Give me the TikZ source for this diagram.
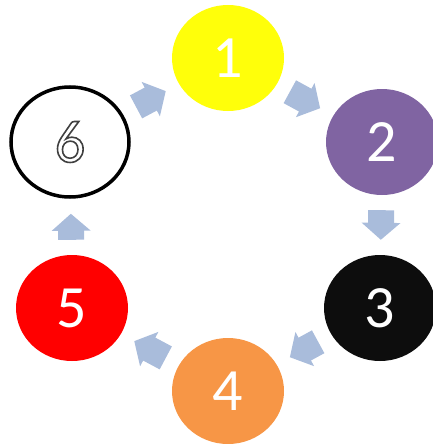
\documentclass[tikz,border=0pt]{standalone}
\usepackage{fontspec}
\setmainfont{Carlito}
\usetikzlibrary{arrows.meta,shapes.geometric}

\definecolor{stepyellow}{HTML}{FFFF0A}
\definecolor{steppurple}{HTML}{8064A2}
\definecolor{stepblack}{HTML}{0D0D0D}
\definecolor{steporange}{HTML}{F79646}
\definecolor{stepred}{HTML}{FF0000}
\definecolor{flowblue}{HTML}{A9BCDB}

% hollow digit: white fill, grey outline
\newcommand{\hollowdigit}[1]{\special{pdf:literal direct q 0.25 G 1.6 w 2 Tr}#1\special{pdf:literal direct 0 Tr Q}}

\begin{document}
\begin{tikzpicture}[x=1pt,y=-1pt,
    stage/.style={ellipse,minimum width=112pt,minimum height=106pt,inner sep=0pt,
        text=white,font=\fontsize{60}{60}\selectfont},
    flow/.style={draw=flowblue,line width=26pt,shorten <=15pt,shorten >=15pt,
        -{Triangle[length=17pt,width=38pt,color=flowblue]}}]
    \useasboundingbox (0,0) rectangle (432,444);

    % Cycle of six stages
    \node[stage,fill=stepyellow] (one) at (228,58) {1};

    \node[stage,fill=steppurple] (two) at (382,142) {2};

    \node[stage,fill=stepblack] (three) at (380,308) {3};

    \node[stage,fill=steporange] (four) at (228,391) {4};

    \node[stage,fill=stepred] (five) at (72,308) {5};

    \node[stage,draw=black,line width=3.5pt,fill=white,minimum width=118pt,minimum height=110pt]
        (six) at (70,142) {\hollowdigit{6}};

    % Arrows between the stages
    \draw[flow] (one) -- (two);

    \draw[flow] (two) -- (three);

    \draw[flow] (three) -- (four);

    \draw[flow] (four) -- (five);

    \draw[flow] (five) -- (six);

    \draw[flow] (six) -- (one);
\end{tikzpicture}
\end{document}
